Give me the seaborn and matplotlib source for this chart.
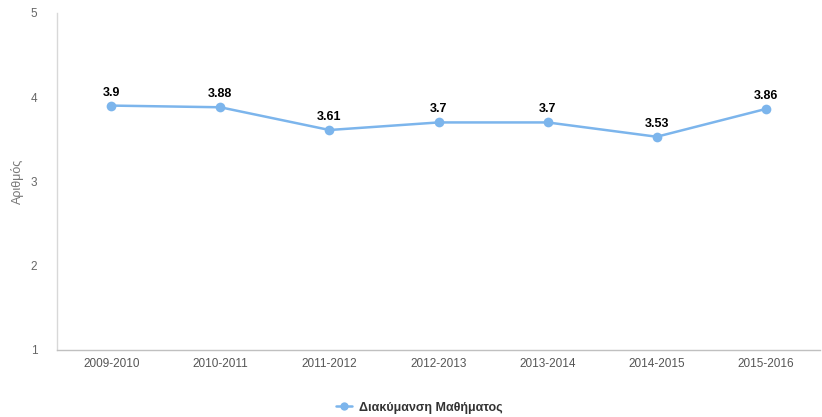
import numpy as np
import pandas as pd
import matplotlib
matplotlib.use("Agg")
import matplotlib.pyplot as plt
import seaborn as sns
from matplotlib.lines import Line2D

years = ["2009-2010", "2010-2011", "2011-2012", "2012-2013",
         "2013-2014", "2014-2015", "2015-2016"]
values = [3.9, 3.88, 3.61, 3.7, 3.7, 3.53, 3.86]
series_name = "Διακύμανση Μαθήματος"

df = pd.DataFrame({"year": years, "value": values})
df["pos"] = np.arange(len(df))

sns.set_style("white")
plt.rcParams["font.family"] = ["Liberation Sans", "DejaVu Sans"]

line_color = "#7cb5ec"

fig = plt.figure(figsize=(8.22, 4.17), dpi=100)
ax = fig.add_axes([0.069, 0.161, 0.929, 0.808])

sns.lineplot(data=df, x="pos", y="value", ax=ax, color=line_color,
             linewidth=1.8, marker="o", markersize=7, markeredgewidth=0,
             legend=False)

for x, v in zip(df["pos"], df["value"]):
    ax.annotate(f"{v:g}", (x, v), xytext=(0, 5), textcoords="offset points",
                ha="center", va="bottom", fontsize=9, fontweight="bold",
                color="#000000")

ax.set_xlim(-0.5, len(years) - 0.5)
ax.set_ylim(1, 5)
ax.set_yticks([1, 2, 3, 4, 5])
ax.set_xticks(df["pos"])
ax.set_xticklabels(years)
ax.set_xticks(np.arange(-0.5, len(years)), minor=True)
ax.tick_params(axis="x", which="major", length=0, pad=6, labelsize=8.5,
               labelcolor="#555555")
ax.tick_params(axis="x", which="minor", length=8.5, width=1,
               color="#c0c0c0", direction="out")
ax.tick_params(axis="y", length=0, pad=14, labelsize=8.5, labelcolor="#666666")

ax.set_xlabel("")
ax.set_ylabel("Αριθμός", fontsize=9, color="#777777", labelpad=5)
ax.grid(False)

for side in ["top", "right"]:
    ax.spines[side].set_visible(False)
ax.spines["left"].set_color("#d8d8d8")
ax.spines["bottom"].set_color("#c0c0c0")
ax.spines["left"].set_linewidth(1)
ax.spines["bottom"].set_linewidth(1)

handle = Line2D([], [], color=line_color, linewidth=1.8, marker="o",
                markersize=6, markeredgewidth=0)
fig.legend([handle], [series_name], loc="center", bbox_to_anchor=(0.51, 0.022),
           frameon=False, handlelength=1.3, handletextpad=0.5,
           prop={"size": 9, "weight": "bold"}, labelcolor="#333333")

fig.savefig("out.png", dpi=100)
